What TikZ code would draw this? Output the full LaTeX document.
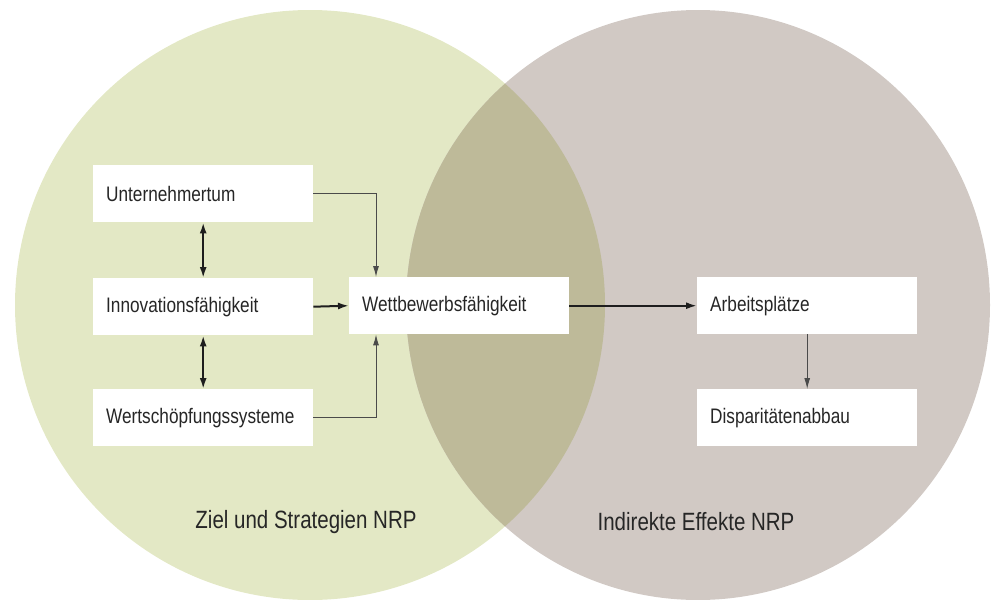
\documentclass[tikz,border=0pt]{standalone}
\usepackage{fontspec}
\setmainfont{Liberation Sans}[FakeStretch=0.82]
\usetikzlibrary{arrows.meta}
\definecolor{leftc}{HTML}{E3E8C5}
\definecolor{rightc}{HTML}{D1C9C4}
\definecolor{overc}{HTML}{BEBA99}
\definecolor{txt}{HTML}{262626}
\definecolor{thinl}{HTML}{4A4A4A}
\definecolor{thickl}{HTML}{1E1E1E}
\tikzset{
  box/.style={fill=white, draw=none, anchor=north west, minimum height=57pt,
    inner xsep=13pt, inner ysep=0pt, text width=194pt, align=flush left,
    font=\fontsize{21}{23}\selectfont, text=txt,
    execute at begin node={\hyphenpenalty=10000}},
  thinarrow/.style={draw=thinl, line width=1pt, -{Latex[length=11pt,width=6pt]}},
  thickarrow/.style={draw=thickl, line width=2pt, -{Latex[length=11pt,width=7pt]}},
  dblarrow/.style={draw=thickl, line width=2pt, {Latex[length=11pt,width=7pt]}-{Latex[length=11pt,width=7pt]}},
  caption/.style={font=\fontsize{25}{27}\selectfont, text=txt, inner sep=0pt}
}
\begin{document}
\begin{tikzpicture}[x=1pt,y=-1pt]
\useasboundingbox (0,0) rectangle (994,600);
\fill[leftc] (310,305) ellipse [x radius=295, y radius=295];
\fill[rightc] (698,305) ellipse [x radius=292, y radius=295];
\begin{scope}
  \clip (310,305) ellipse [x radius=295, y radius=295];
  \fill[overc] (698,305) ellipse [x radius=292, y radius=295];
\end{scope}

\node[box] (U) at (93,165) {Unternehmertum};
\node[box] (I) at (93,278) {Innovationsfähigkeit};
\node[box] (W) at (93,389) {Wertschöpfungssysteme};
\node[box] (Wb) at (349,277) {Wettbewerbsfähigkeit};
\node[box] (A) at (697,277) {Arbeitsplätze};
\node[box] (D) at (697,389) {Disparitätenabbau};

\coordinate (wbin) at ([xshift=27pt]Wb.north west);
\coordinate (wbin2) at ([xshift=27pt]Wb.south west);

\draw[thinarrow] (U.east) -| (wbin);
\draw[thinarrow] (W.east) -| (wbin2);
\draw[thickarrow] (I.east) -- (Wb.west);
\draw[dblarrow] (U.south) -- (I.north);
\draw[dblarrow] (I.south) -- (W.north);
\draw[thickarrow] (Wb.east) -- (A.west);
\draw[thinarrow] (A.south) -- (D.north);

\node[caption] (L1) at (306,522) {Ziel und Strategien NRP};
\node[caption] (L2) at (696,522) {Indirekte Effekte NRP};
\end{tikzpicture}
\end{document}
